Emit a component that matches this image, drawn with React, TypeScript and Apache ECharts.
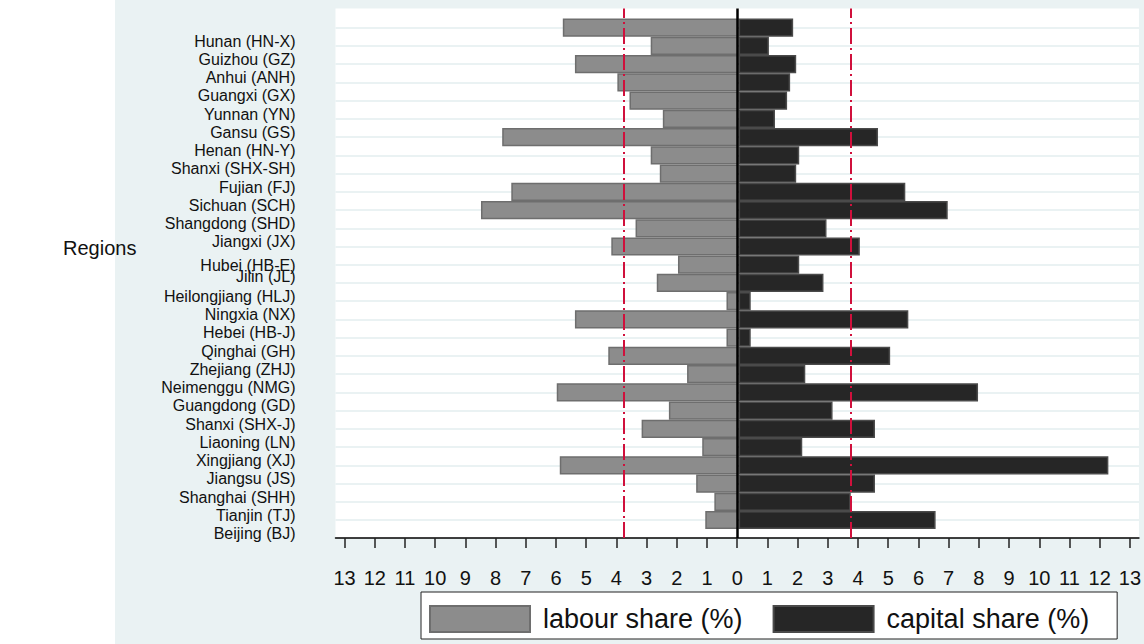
import React, { useEffect, useRef } from "react";
import * as echarts from "echarts";

const categories = [
  "Hunan (HN-X)", "Guizhou (GZ)", "Anhui (ANH)", "Guangxi (GX)", "Yunnan (YN)",
  "Gansu (GS)", "Henan (HN-Y)", "Shanxi (SHX-SH)", "Fujian (FJ)", "Sichuan (SCH)",
  "Shangdong (SHD)", "Jiangxi (JX)", "Hubei (HB-E)", "Jilin (JL)", "Heilongjiang (HLJ)",
  "Ningxia (NX)", "Hebei (HB-J)", "Qinghai (GH)", "Zhejiang (ZHJ)", "Neimenggu (NMG)",
  "Guangdong (GD)", "Shanxi (SHX-J)", "Liaoning (LN)", "Xingjiang (XJ)", "Jiangsu (JS)",
  "Shanghai (SHH)", "Tianjin (TJ)", "Beijing (BJ)",
];

const labourShare = [
  5.8, 2.9, 5.4, 4.0, 3.6, 2.5, 7.8, 2.9, 2.6, 7.5,
  8.5, 3.4, 4.2, 2.0, 2.7, 0.4, 5.4, 0.4, 4.3, 1.7,
  6.0, 2.3, 3.2, 1.2, 5.9, 1.4, 0.8, 1.1,
];

const capitalShare = [
  1.8, 1.0, 1.9, 1.7, 1.6, 1.2, 4.6, 2.0, 1.9, 5.5,
  6.9, 2.9, 4.0, 2.0, 2.8, 0.4, 5.6, 0.4, 5.0, 2.2,
  7.9, 3.1, 4.5, 2.1, 12.2, 4.5, 3.7, 6.5,
];

const xTicks = [-13, -12, -11, -10, -9, -8, -7, -6, -5, -4, -3, -2, -1, 0, 1, 2, 3, 4, 5, 6, 7, 8, 9, 10, 11, 12, 13];

const labourRef = 3.76;
const capitalRef = 3.75;

const FONT = "'Liberation Sans', Arial, Helvetica, sans-serif";

export default function App() {
  const ref = useRef<HTMLDivElement>(null);

  useEffect(() => {
    if (!ref.current) return;
    const chart = echarts.init(ref.current, undefined, { renderer: "svg" });
    const gridLeft = 335.5;
    const gridRight = 2.3;
    const redLine = { color: "#d0103c", width: 2, type: [16, 4, 2, 4] };

    const option: any = {
      animation: false,
      backgroundColor: "#ffffff",
      textStyle: { fontFamily: FONT },
      graphic: [
        {
          type: "rect",
          z: -100,
          silent: true,
          shape: { x: 115, y: 0, width: 1029, height: 644 },
          style: { fill: "#eaf2f3" },
        },
      ],
      title: {
        text: "Regions",
        left: 63,
        top: 238,
        padding: 0,
        textStyle: { fontFamily: FONT, fontSize: 20, fontWeight: "normal", color: "#111" },
      },
      legend: {
        left: 421,
        top: 592,
        orient: "horizontal",
        itemWidth: 100,
        itemHeight: 26,
        itemGap: 30,
        padding: [13, 28, 6, 8],
        backgroundColor: "#ffffff",
        borderColor: "#222",
        borderWidth: 1,
        icon: "rect",
        textStyle: { fontFamily: FONT, fontSize: 27, color: "#111", padding: [4, 0, 0, 8] },
        data: ["labour share (%)", "capital share (%)"],
      },
      grid: [
        {
          left: gridLeft,
          right: gridRight,
          top: 8.5,
          bottom: 644 - 538,
          show: true,
          backgroundColor: "#ffffff",
          borderWidth: 0,
        },
        {
          left: gridLeft,
          right: gridRight,
          top: 27.7,
          bottom: 644 - 520,
        },
      ],
      xAxis: [
        {
          type: "value",
          gridIndex: 0,
          min: -13.3,
          max: 13.3,
          splitLine: { show: false },
          axisLine: { show: true, onZero: false, lineStyle: { color: "#000", width: 1.5 } },
          axisTick: {
            show: true,
            length: 10,
            customValues: xTicks,
            lineStyle: { color: "#222", width: 1.5 },
          },
          axisLabel: {
            show: true,
            margin: 30,
            customValues: xTicks,
            formatter: (v: number) => String(Math.abs(v)),
            fontFamily: FONT,
            fontSize: 20,
            color: "#111",
          },
        },
        {
          type: "value",
          gridIndex: 1,
          min: -13.3,
          max: 13.3,
          show: false,
          splitLine: { show: false },
        },
      ],
      yAxis: [
        {
          type: "value",
          gridIndex: 0,
          min: 0,
          max: 1,
          show: false,
          splitLine: { show: false },
        },
        {
          type: "category",
          gridIndex: 1,
          inverse: true,
          boundaryGap: false,
          data: categories,
          axisLine: { show: false },
          axisTick: {
            show: true,
            interval: 0,
            length: 10,
            lineStyle: { color: "#222", width: 1.5 },
          },
          splitLine: {
            show: true,
            interval: 0,
            lineStyle: { color: "#eaf2f3", width: 2 },
          },
          axisLabel: {
            show: true,
            interval: 0,
            margin: 40,
            fontFamily: FONT,
            fontSize: 16,
            color: "#111",
            formatter: (v: string, i: number) =>
              i === 12 ? `{b|${v}}` : i === 13 ? `{c|${v}}` : `{a|${v}}`,
            rich: {
              a: { fontFamily: FONT, fontSize: 16, color: "#111", padding: [27, 0, 0, 0] },
              b: { fontFamily: FONT, fontSize: 16, color: "#111", padding: [37, 0, 0, 0] },
              c: { fontFamily: FONT, fontSize: 16, color: "#111", padding: [24, 0, 0, 0] },
            },
          },
        },
      ],
      series: [
        {
          type: "scatter",
          name: "refs",
          xAxisIndex: 0,
          yAxisIndex: 0,
          data: [],
          z: 1,
          silent: true,
          markLine: {
            silent: true,
            symbol: ["none", "none"],
            label: { show: false },
            data: [
              { xAxis: -labourRef, lineStyle: redLine },
              { xAxis: capitalRef, lineStyle: redLine },
              { xAxis: 0, lineStyle: { color: "#000", width: 2.5, type: "solid" } },
            ],
          },
        },
        {
          type: "bar",
          name: "labour share (%)",
          xAxisIndex: 1,
          yAxisIndex: 1,
          stack: "share",
          barWidth: "100%",
          clip: false,
          z: 3,
          data: labourShare.map((v) => -v),
          itemStyle: { color: "#8c8c8c", borderColor: "#6e6e6e", borderWidth: 1.5 },
        },
        {
          type: "bar",
          name: "capital share (%)",
          xAxisIndex: 1,
          yAxisIndex: 1,
          stack: "share",
          barWidth: "100%",
          clip: false,
          z: 3,
          data: capitalShare,
          itemStyle: { color: "#262626", borderColor: "#4a4a4a", borderWidth: 1.5 },
        },
      ],
    };

    chart.setOption(option);
    return () => chart.dispose();
  }, []);

  return (
    <div
      ref={ref}
      style={{ position: "fixed", left: 0, top: 0, width: 1144, height: 644 }}
    />
  );
}
